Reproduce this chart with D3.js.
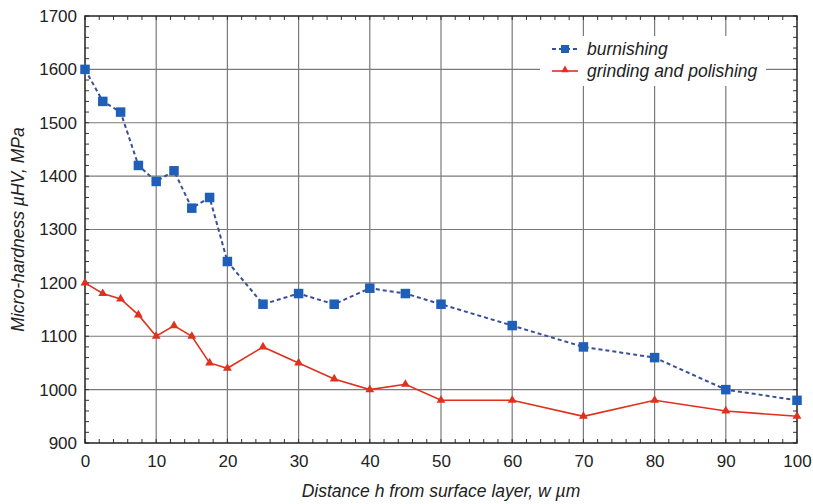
<!DOCTYPE html>
<html><head><meta charset="utf-8">
<script src="https://cdn.jsdelivr.net/npm/d3@7"></script>
<style>body{margin:0;background:#fff;font-family:"Liberation Sans",Arial,sans-serif}</style>
</head><body>
<svg id="c" width="813" height="504"></svg>
<script>
const xValues = [0,2.5,5,7.5,10,12.5,15,17.5,20,25,30,35,40,45,50,60,70,80,90,100];
const burnishing = [1600,1540,1520,1420,1390,1410,1340,1360,1240,1160,1180,1160,1190,1180,1160,1120,1080,1060,1000,980];
const grinding = [1200,1180,1170,1140,1100,1120,1100,1050,1040,1080,1050,1020,1000,1010,980,980,950,980,960,950];
const xTicks = [0,10,20,30,40,50,60,70,80,90,100];
const yTicks = [900,1000,1100,1200,1300,1400,1500,1600,1700];
const seriesNames = ["burnishing","grinding and polishing"];

const svg = d3.select("#c");
const L=85,R=797,T=16,B=443;
const x = d3.scaleLinear().domain([0,100]).range([L,R]);
const y = d3.scaleLinear().domain([900,1700]).range([B,T]);
const g = svg.append("g");
const FONT="Liberation Sans, Arial, sans-serif";

// grid
g.selectAll(".gx").data(xTicks.slice(1,-1)).enter().append("line")
 .attr("x1",d=>x(d)).attr("x2",d=>x(d)).attr("y1",T).attr("y2",B)
 .attr("stroke","#7a7a7a").attr("stroke-width",1.2);
g.selectAll(".gy").data(yTicks.slice(1,-1)).enter().append("line")
 .attr("x1",L).attr("x2",R).attr("y1",d=>y(d)).attr("y2",d=>y(d))
 .attr("stroke","#7a7a7a").attr("stroke-width",1.2);

// minor ticks inside on all sides
const xMinor = d3.range(0,100.001,2);
const yMinor = d3.range(900,1700.001,20);
const tk=4;
g.selectAll(".mxb").data(xMinor).enter().append("line")
 .attr("x1",d=>x(d)).attr("x2",d=>x(d)).attr("y1",B).attr("y2",B-tk).attr("stroke","#333");
g.selectAll(".mxt").data(xMinor).enter().append("line")
 .attr("x1",d=>x(d)).attr("x2",d=>x(d)).attr("y1",T).attr("y2",T+tk).attr("stroke","#333");
g.selectAll(".myl").data(yMinor).enter().append("line")
 .attr("x1",L).attr("x2",L+tk).attr("y1",d=>y(d)).attr("y2",d=>y(d)).attr("stroke","#333");
g.selectAll(".myr").data(yMinor).enter().append("line")
 .attr("x1",R).attr("x2",R-tk).attr("y1",d=>y(d)).attr("y2",d=>y(d)).attr("stroke","#333");

// legend background
const lg = svg.append("g");
lg.append("rect").attr("x",540).attr("y",36).attr("width",226).attr("height",50).attr("fill","#fff");

// frame
svg.append("rect").attr("x",L).attr("y",T).attr("width",R-L).attr("height",B-T)
 .attr("fill","none").attr("stroke","#222").attr("stroke-width",1.5);

// axes labels
const xAxis = d3.axisBottom(x).tickValues(xTicks).tickFormat(d3.format("d")).tickSize(0).tickPadding(12);
const ax = svg.append("g").attr("transform",`translate(0,${B})`).call(xAxis);
ax.select(".domain").remove();
ax.selectAll("text").attr("font-size",17).attr("fill","#222").attr("font-family",FONT);
const yAxis = d3.axisLeft(y).tickValues(yTicks).tickFormat(d3.format("d")).tickSize(0).tickPadding(8);
const ay = svg.append("g").attr("transform",`translate(${L},0)`).call(yAxis);
ay.select(".domain").remove();
ay.selectAll("text").attr("font-size",17).attr("fill","#222").attr("font-family",FONT);

svg.append("text").attr("x",441).attr("y",497).attr("text-anchor","middle").attr("font-family",FONT)
 .attr("font-size",17.5).attr("font-style","italic").attr("fill","#222").text("Distance h from surface layer, w µm");
svg.append("text").attr("transform",`translate(24,${(T+B)/2}) rotate(-90)`).attr("text-anchor","middle").attr("font-family",FONT)
 .attr("font-size",17.5).attr("font-style","italic").attr("fill","#222").text("Micro-hardness µHV, MPa");

const line = d3.line().x((d,i)=>x(xValues[i])).y(d=>y(d));
const blue="#1f5fb8", navy="#3a4f96", red="#e0301e";
svg.append("path").datum(burnishing).attr("d",line).attr("fill","none")
 .attr("stroke",navy).attr("stroke-width",2).attr("stroke-dasharray","4,3");
svg.append("path").datum(grinding).attr("d",line).attr("fill","none")
 .attr("stroke",red).attr("stroke-width",1.6);

const sq=9.5;
svg.selectAll(".sq").data(burnishing).enter().append("rect")
 .attr("x",(d,i)=>x(xValues[i])-sq/2).attr("y",d=>y(d)-sq/2).attr("width",sq).attr("height",sq).attr("fill",blue);
const tri = d3.symbol().type(d3.symbolTriangle).size(34);
svg.selectAll(".tr").data(grinding).enter().append("path")
 .attr("d",tri).attr("transform",(d,i)=>`translate(${x(xValues[i])},${y(d)})`).attr("fill",red);

// legend
lg.append("line").attr("x1",552).attr("x2",578).attr("y1",49).attr("y2",49).attr("stroke",navy).attr("stroke-width",2).attr("stroke-dasharray","4,3");
lg.append("rect").attr("x",561).attr("y",45).attr("width",8).attr("height",8).attr("fill",blue);
lg.append("line").attr("x1",552).attr("x2",578).attr("y1",71).attr("y2",71).attr("stroke",red).attr("stroke-width",1.6);
lg.append("path").attr("d",d3.symbol().type(d3.symbolTriangle).size(26)).attr("transform","translate(565,70)").attr("fill",red);
lg.append("text").attr("x",587).attr("y",55).attr("font-family",FONT).attr("font-size",17.5).attr("font-style","italic").attr("fill","#222").text(seriesNames[0]);
lg.append("text").attr("x",587).attr("y",77).attr("font-family",FONT).attr("font-size",17.5).attr("font-style","italic").attr("fill","#222").text(seriesNames[1]);
</script>
</body></html>
